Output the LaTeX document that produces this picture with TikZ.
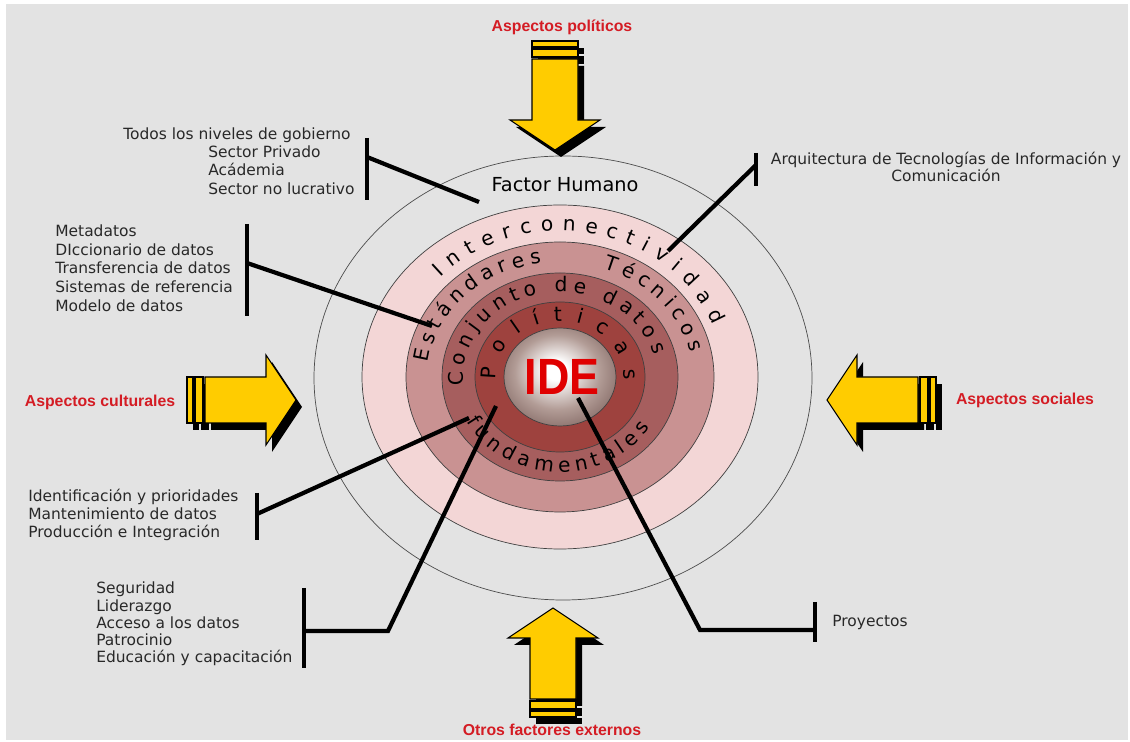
\documentclass[tikz,border=0pt]{standalone}
\usepackage{fontspec}
\setmainfont{DejaVu Sans}
\newfontfamily\rotulo{Liberation Sans}
\usetikzlibrary{positioning}
\usetikzlibrary{decorations.text}
\definecolor{fondo}{RGB}{227,227,227}
\definecolor{rojo}{RGB}{212,28,36}
\definecolor{amarillo}{RGB}{255,204,0}
\definecolor{anilloa}{RGB}{243,214,214}
\definecolor{anillob}{RGB}{201,146,146}
\definecolor{anilloc}{RGB}{166,94,94}
\definecolor{anillod}{RGB}{158,66,62}
\definecolor{esfmedio}{RGB}{178,156,150}
\definecolor{esfborde}{RGB}{112,84,80}
\definecolor{gristexto}{RGB}{40,40,40}
\pgfdeclareradialshading{esfera}{\pgfpoint{-2bp}{4bp}}{color(0bp)=(white); color(5bp)=(white); color(19bp)=(esfmedio); color(35bp)=(esfborde); color(50bp)=(esfborde)}
\newcommand{\rueda}{\fontsize{11.5}{13}\selectfont}
\tikzset{pics/flecha/.style={code={
           \path[#1] (0,0) -- (-30,45) -- (-30,23) -- (-91,23) -- (-91,-23) -- (-30,-23) -- (-30,-45) -- cycle;
           \path[#1] (-101,-23) rectangle (-93,23);
           \path[#1] (-109,-23) rectangle (-103,23);}}}
\tikzset{amarilla/.style = {fill=amarillo, draw=black, line width=0.6pt},
         sombra/.style = {fill=black},
         gris/.style = {font=\fontsize{8.8}{10.4}\selectfont, text=gristexto, inner sep=0pt, align=left},
         aspecto/.style = {font=\rotulo\bfseries\fontsize{9}{11}\selectfont, text=rojo, inner sep=0pt},
         conector/.style = {line width=2.4pt},
         barra/.style = {line width=2.4pt},
         anillo/.style = {draw=black!75, line width=0.4pt}}

\begin{document}
\begin{tikzpicture}[x=0.02cm, y=0.02cm]
      \useasboundingbox (0,0) rectangle (1130,-742);
      \fill [white] (0,0) rectangle (1130,-742);
      \fill [fondo] (6,-4) rectangle (1128,-740);

      \coordinate (c) at (560,-377);
      \draw [black!70, line width=0.4pt] (563,-378) ellipse [x radius=249, y radius=222];
      \filldraw [anillo, fill=anilloa] (c) ellipse [x radius=198, y radius=172];
      \filldraw [anillo, fill=anillob] (c) ellipse [x radius=154, y radius=135];
      \filldraw [anillo, fill=anilloc] (c) ellipse [x radius=118, y radius=104];
      \filldraw [anillo, fill=anillod] (c) ellipse [x radius=85, y radius=75];
      \shade [shading=esfera] (c) ellipse [x radius=56, y radius=49];
      \draw [anillo] (c) ellipse [x radius=56, y radius=49];
      \node [font=\rotulo\bfseries\fontsize{29}{30}\selectfont, text=red!88!black] (ide) at (562,-377) {\scalebox{0.88}[1]{IDE}};

      \path [decorate, decoration={text along path, text align={fit to path}, text={|\rueda|Interconectividad}}]
        (c) ++(137:164 and 146) arc [start angle=137, end angle=21, x radius=164, y radius=146];
      \path [decorate, decoration={text along path, text align={fit to path}, text={|\rueda|Estándares}}]
        (c) ++(173:133 and 115) arc [start angle=173, end angle=98, x radius=133, y radius=115];
      \path [decorate, decoration={text along path, text align={fit to path}, text={|\rueda|Técnicos}}]
        (c) ++(71:133 and 115) arc [start angle=71, end angle=12, x radius=133, y radius=115];
      \path [decorate, decoration={text along path, text align={fit to path}, text={|\rueda|Conjunto de datos}}]
        (c) ++(186:97 and 85) arc [start angle=186, end angle=15, x radius=97, y radius=85];
      \path [decorate, decoration={text along path, text align={fit to path}, text={|\rueda|fundamentales}}]
        (c) ++(208:106 and 95) arc [start angle=208, end angle=328, x radius=106, y radius=95];
      \path [decorate, decoration={text along path, text align={fit to path}, text={|\rueda|Políticas}}]
        (c) ++(183:64 and 56) arc [start angle=183, end angle=-3, x radius=64, y radius=56];

      \node [font=\fontsize{11}{13}\selectfont, inner sep=0pt] (humano) at (565,-185) {Factor Humano};

      \pic [rotate=-90] at (561,-157) {flecha=sombra};
      \pic [rotate=-90] at (555,-150) {flecha=amarilla};
      \pic [rotate=90] at (559,-615) {flecha=sombra};
      \pic [rotate=90] at (553,-608) {flecha=amarilla};
      \pic at (302,-407) {flecha=sombra};
      \pic at (296,-400) {flecha=amarilla};
      \pic [rotate=180] at (833,-407) {flecha=sombra};
      \pic [rotate=180] at (827,-400) {flecha=amarilla};

      \node [aspecto] (politicos) at (562,-27) {Aspectos políticos};
      \node [aspecto] (externos) at (552,-730) {Otros factores externos};
      \node [aspecto] (culturales) at (100,-402) {Aspectos culturales};
      \node [aspecto] (sociales) at (1025,-400) {Aspectos sociales};

      \node [gris, anchor=west] (gobierno) at (123,-135) {Todos los niveles de gobierno};
      \node [gris, anchor=west] (sectores) at (208,-170) {Sector Privado\\Acádemia\\Sector no lucrativo};
      \node [gris, anchor=west, font=\fontsize{8.8}{10.6}\selectfont] (normas) at (55,-268) {Metadatos\\DIccionario de datos\\Transferencia de datos\\Sistemas de referencia\\Modelo de datos};
      \node [gris, anchor=west] (produccion) at (28,-515) {Identificación y prioridades\\Mantenimiento de datos\\Producción e Integración};
      \node [gris, anchor=west, font=\fontsize{8.8}{9.8}\selectfont] (politica) at (96,-624) {Seguridad\\Liderazgo\\Acceso a los datos\\Patrocinio\\Educación y capacitación};
      \node [gris, align=center, font=\fontsize{8.8}{9.2}\selectfont] (arquitectura) at (946,-167) {Arquitectura de Tecnologías de Información y\\Comunicación};
      \node [gris, anchor=west] (proyectos) at (832,-622) {Proyectos};

      \coordinate (bgob) at (367,-157);
      \coordinate (hgob) at (479,-202);
      \coordinate (bnor) at (247,-263);
      \coordinate (hnor) at (432,-326);
      \coordinate (bpro) at (257,-514);
      \coordinate (hpro) at (469,-418);
      \coordinate (bpol) at (304,-631);
      \coordinate (hpol) at (496,-406);
      \coordinate (barq) at (756,-165);
      \coordinate (harq) at (668,-251);
      \coordinate (bpry) at (815,-630);
      \coordinate (hpry) at (578,-398);

      \draw [barra] (367,-138) -- (367,-200);
      \draw [barra] (247,-224) -- (247,-316);
      \draw [barra] (257,-493) -- (257,-540);
      \draw [barra] (304,-588) -- (304,-668);
      \draw [barra] (756,-153) -- (756,-186);
      \draw [barra] (815,-602) -- (815,-642);

      \draw [conector] (bgob) -- (hgob);
      \draw [conector] (bnor) -- (hnor);
      \draw [conector] (bpro) -- (hpro);
      \draw [conector] (bpol) -- (388,-631) -- (hpol);
      \draw [conector] (barq) -- (harq);
      \draw [conector] (hpry) -- (700,-630) -- (bpry);
    \end{tikzpicture}
\end{document}
